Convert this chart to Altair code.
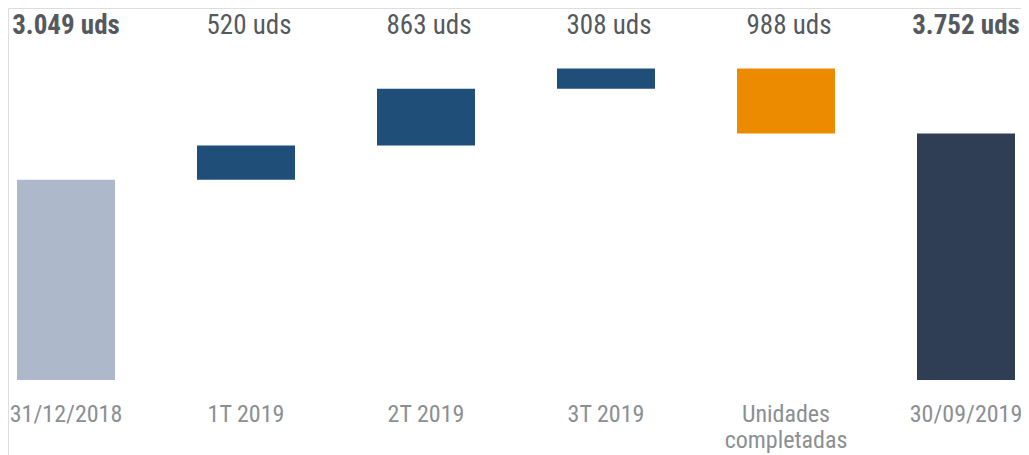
import altair as alt
import pandas as pd

categories = ["31/12/2018", "1T 2019", "2T 2019", "3T 2019", "Unidades\ncompletadas", "30/09/2019"]
changes = [3049, 520, 863, 308, -988, 3752]
kinds = ["inicio", "sube", "sube", "sube", "baja", "fin"]
value_labels = ["3.049 uds", "520 uds", "863 uds", "308 uds", "988 uds", "3.752 uds"]
is_bold = [True, False, False, False, False, True]

kind_domain = ["inicio", "sube", "baja", "fin"]
kind_colors = ["#adb9ca", "#1f4e79", "#ed8b00", "#2f3e55"]

rows = []
running = 0
for i, (cat, ch, k, lab, b) in enumerate(zip(categories, changes, kinds, value_labels, is_bold)):
    if k in ("inicio", "fin"):
        lo, hi = 0, ch
        running = ch
    else:
        lo, hi = running, running + ch
        running = running + ch
    rows.append({"idx": i, "cat": cat, "lo": lo, "hi": hi, "kind": k, "label": lab, "bold": b})
df = pd.DataFrame(rows)

FONT = "Liberation Sans Narrow, Arial Narrow, Roboto Condensed, Liberation Sans, Arial"

x = alt.X("idx:Q", scale=alt.Scale(domain=[0, 5], range=[58, 958], padding=0), axis=None)
yscale = alt.Scale(domain=[0, 5662], range=[372, 0])

base = alt.Chart(df)

bars = base.mark_bar(size=98).encode(
    x=x,
    y=alt.Y("lo:Q", scale=yscale, axis=None),
    y2="hi:Q",
    color=alt.Color("kind:N", scale=alt.Scale(domain=kind_domain, range=kind_colors), legend=None),
)

top_bold = base.transform_filter("datum.bold").mark_text(
    font=FONT, fontSize=27, fontWeight="bold", color="#55595f", baseline="alphabetic", dx=0
).encode(x=x, y=alt.value(26), text="label:N")

top_norm = base.transform_filter("!datum.bold").mark_text(
    font=FONT, fontSize=27, color="#55595f", baseline="alphabetic", dx=3
).encode(x=x, y=alt.value(26), text="label:N")

bottom = base.mark_text(
    font=FONT, fontSize=24, color="#8b8f94", baseline="alphabetic", lineBreak="\n", lineHeight=26
).encode(x=x, y=alt.value(414), text="cat:N")

chart = alt.layer(bars, top_bold, top_norm, bottom).properties(
    width=1013, height=447, padding=0, autosize=alt.AutoSizeParams(type="none")
).configure_view(stroke=None).configure(background="white")

chart.save("out.html", embed_options={"renderer": "svg", "actions": False})
